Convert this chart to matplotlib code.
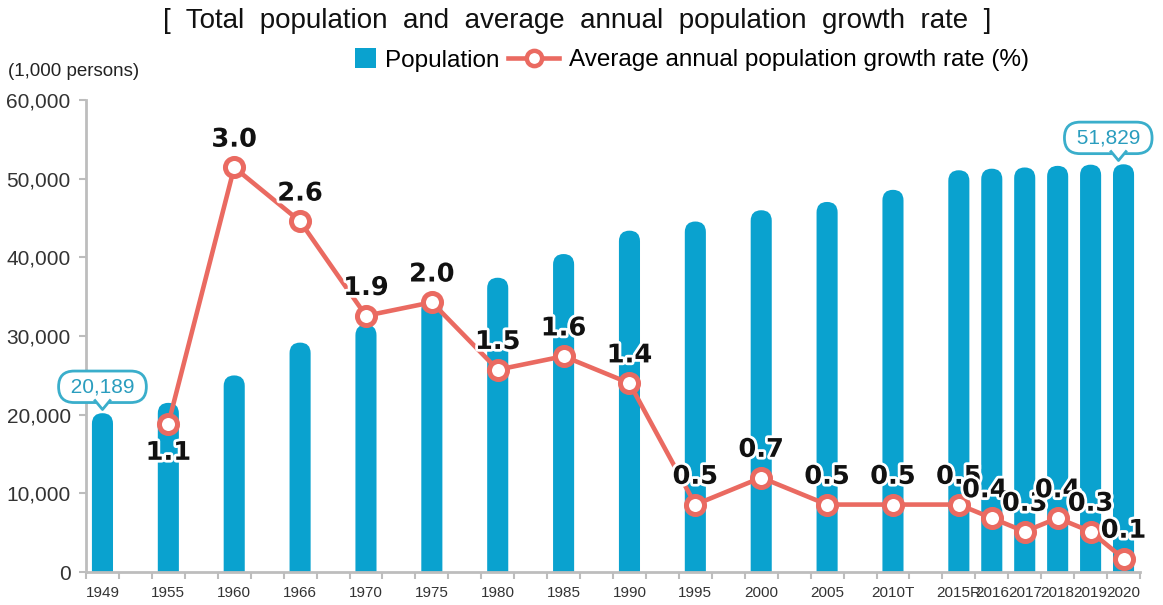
import numpy as np
import matplotlib
matplotlib.use("Agg")
import matplotlib.pyplot as plt
from matplotlib.patches import FancyBboxPatch, Patch
from matplotlib.lines import Line2D
from matplotlib.path import Path
import matplotlib.patheffects as pe

categories = ["1949", "1955", "1960", "1966", "1970", "1975", "1980", "1985", "1990",
              "1995", "2000", "2005", "2010T", "2015R", "2016", "2017", "2018", "2019", "2020"]
population = [20189, 21502, 24989, 29160, 31435, 34679, 37407, 40420, 43390,
              44554, 45985, 47041, 48580, 51069, 51270, 51423, 51630, 51779, 51829]
growth_rate = [np.nan, 1.1, 3.0, 2.6, 1.9, 2.0, 1.5, 1.6, 1.4,
               0.5, 0.7, 0.5, 0.5, 0.5, 0.4, 0.3, 0.4, 0.3, 0.1]
callouts = {"1949": "20,189", "2020": "51,829"}
yticks = [0, 10000, 20000, 30000, 40000, 50000, 60000]

REG = "Liberation Sans"

BAR = "#0AA2CF"
LINE = "#EA6A61"
CALL_EDGE = "#3AAECB"
CALL_TEXT = "#2A9DBE"
GRAY = "#BDBDBD"

fig = plt.figure(figsize=(11.63, 6.05), dpi=100)
L, R, B, T = 86 / 1163, 1140 / 1163, 1 - 572 / 605, 1 - 100 / 605
ax = fig.add_axes([L, B, R - L, T - B])
ax2 = ax.twinx()

# slot layout: first 13 categories every other slot, last 6 consecutive
slots = np.array([2 * i if i < 13 else 26 + (i - 13) for i in range(len(categories))]) + 0.5
ax.set_xlim(0, 32)
ax.set_ylim(0, 60000)
ax2.set_ylim(0, 3.5)

bw = 0.64
bars = ax.bar(slots, population, width=bw, color=BAR, zorder=2)

# rounded tops
fig.canvas.draw()
bb = ax.get_window_extent()
xpp = 32 / bb.width
ypp = 60000 / bb.height
aspect = ypp / xpp
r = bw / 2
for rect in bars:
    x0, w, h = rect.get_x(), rect.get_width(), rect.get_height()
    ext = r * aspect
    p = FancyBboxPatch((x0, -ext), w, h + ext, boxstyle=f"round,pad=0,rounding_size={r}",
                       mutation_aspect=aspect, facecolor=BAR, edgecolor="none", zorder=2)
    ax.add_patch(p)
    rect.set_visible(False)

# line
ax2.plot(slots, growth_rate, color=LINE, lw=3.3, marker="o", ms=13, mfc="white",
         mec=LINE, mew=3.6, zorder=5)
ax2.set_zorder(ax.get_zorder() + 1)
ax2.patch.set_visible(False)

stroke = [pe.withStroke(linewidth=4, foreground="white")]
for i, (xs, v) in enumerate(zip(slots, growth_rate)):
    if np.isnan(v):
        continue
    dy = -21 if categories[i] == "1955" else 20
    dx = -5 if categories[i] == "2016" else 0
    ax2.annotate(f"{v:.1f}", (xs, v), xytext=(dx, dy), textcoords="offset points",
                 ha="center", va="center", fontsize=18.5, fontweight="bold",
                 family="DejaVu Sans", color="#111111", path_effects=stroke, zorder=6)

# callouts
vpath = Path([(-1, 0.6), (0, -0.6), (1, 0.6)], [Path.MOVETO, Path.LINETO, Path.LINETO])
for i, c in enumerate(categories):
    if c in callouts:
        xs, v = slots[i], population[i]
        bx = -11 if c == "2020" else 0
        ax.annotate(" " + callouts[c] + " ", (xs, v), xytext=(bx, 19), textcoords="offset points",
                    ha="center", va="center", fontsize=15, color=CALL_TEXT, family=REG,
                    zorder=7, annotation_clip=False,
                    bbox=dict(boxstyle="round,pad=0.3,rounding_size=0.75", fc="white",
                              ec=CALL_EDGE, lw=2))
        tri = ax.transData.inverted().transform(
            ax.transData.transform((xs, v)) + np.array([-6 if c == "2020" else 0, 9]))
        ax.plot([tri[0]], [tri[1]], marker=vpath, ms=12, mfc="white", mec=CALL_EDGE, mew=2,
                zorder=8, clip_on=False)

# axes styling
for s in ["top", "right"]:
    ax.spines[s].set_visible(False)
    ax2.spines[s].set_visible(False)
ax2.spines["left"].set_visible(False)
ax2.spines["bottom"].set_visible(False)
ax2.set_yticks([])
ax.spines["left"].set_color(GRAY)
ax.spines["bottom"].set_color(GRAY)
ax.spines["left"].set_linewidth(2)
ax.spines["bottom"].set_linewidth(2)

ax.set_yticks(yticks)
ax.set_yticklabels([f"{t:,}" for t in yticks], fontsize=15, family=REG, color="#333333")
ax.tick_params(axis="y", length=5, width=1.5, color=GRAY, pad=6)

ax.set_xticks(slots)
ax.set_xticklabels(categories, fontsize=11, family=REG, color="#333333")
ax.set_xticks(np.arange(0, 33), minor=True)
ax.tick_params(axis="x", which="major", length=0, pad=10)
ax.tick_params(axis="x", which="minor", length=5, width=1.5, color=GRAY)

fig.text(8 / 1163, 1 - 72 / 605, "(1,000 persons)", fontsize=13.5, family=REG,
         color="#222222", va="center", ha="left")
fig.text(577 / 1163, 1 - 21 / 605,
         "[  Total  population  and  average  annual  population  growth  rate  ]",
         fontsize=20, family=REG, ha="center", va="center", color="#111111")

leg_y = 1 - 60 / 605
leg1 = fig.legend([Patch(facecolor=BAR, edgecolor="none")], ["Population"],
                  loc="center left", bbox_to_anchor=(355 / 1163, leg_y), frameon=False,
                  prop={"family": REG, "size": 17.5}, handlelength=0.85, handleheight=0.85,
                  handletextpad=0.4, borderaxespad=0, borderpad=0)
leg2 = fig.legend([Line2D([], [], color=LINE, lw=3.3, marker="o", ms=11, mfc="white",
                          mec=LINE, mew=3.2)],
                  ["Average annual population growth rate (%)"],
                  loc="center left", bbox_to_anchor=(508 / 1163, leg_y), frameon=False,
                  prop={"family": REG, "size": 17.5}, handlelength=2.1,
                  handletextpad=0.4, borderaxespad=0, borderpad=0)

fig.savefig("out.png", dpi=100)
